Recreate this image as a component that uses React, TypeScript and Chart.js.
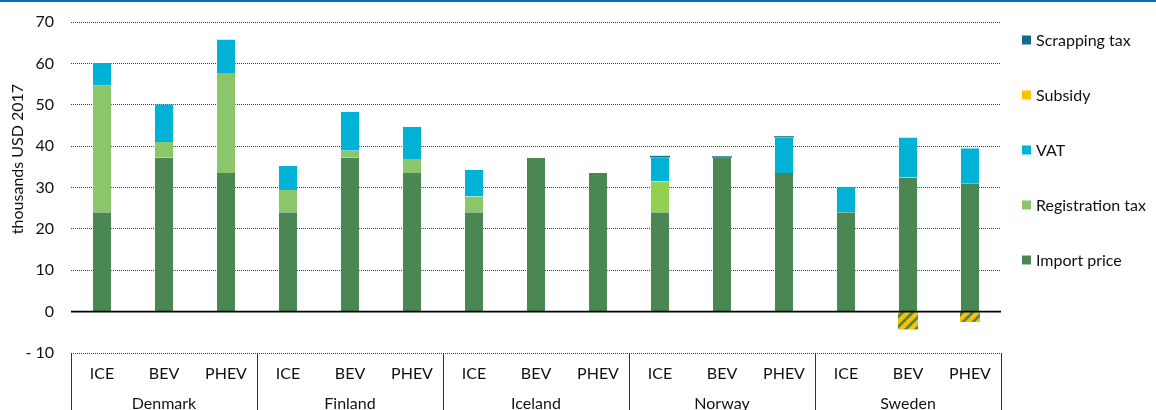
import React, { useEffect, useRef } from 'react';
import { Chart, registerables } from 'chart.js';

Chart.register(...registerables);

// ---------- data ----------
const countries = ['Denmark', 'Finland', 'Iceland', 'Norway', 'Sweden'];
const powertrains = ['ICE', 'BEV', 'PHEV'];
const categoryLabels = countries.flatMap(() => powertrains);

// thousands USD 2017, per bar in order: Denmark ICE/BEV/PHEV, Finland ..., Sweden ...
const importPrice = [24, 37.2, 33.5, 24, 37.2, 33.5, 24, 37.2, 33.5, 24, 37.2, 33.5, 24, 32.4, 31.0];
const registrationTax = [30.6, 3.8, 24.2, 5.4, 1.7, 3.4, 3.8, 0, 0, 7.5, 0, 0, 0, 0, 0];
const vat = [5.5, 9.1, 8.1, 5.8, 9.4, 7.8, 6.4, 0, 0, 5.75, 0, 8.6, 6.2, 9.7, 8.5];
const subsidy = [0, 0, 0, 0, 0, 0, 0, 0, 0, 0, 0, 0, 0, -4.3, -2.5];
const scrappingTax = [0, 0, 0, 0, 0, 0, 0, 0, 0, 0.4, 0.35, 0.3, 0, 0, 0];

const yTicks = [-10, 0, 10, 20, 30, 40, 50, 60, 70];
const yTitle = 'thousands USD 2017';

// ---------- styles ----------
const FONT = 'Lato, "Open Sans", sans-serif';
const C_IMPORT = '#4A8753';
const C_REG = '#8CC66A';
const C_REG_NO = '#92D050';
const C_VAT = '#00B2D5';
const C_SUB = '#FFC000';
const C_SCRAP = '#126A90';

function makeStripePattern(): CanvasPattern | string {
  const s = 10;
  const c = document.createElement('canvas');
  c.width = s;
  c.height = s;
  const g = c.getContext('2d');
  if (!g) return C_SUB;
  g.fillStyle = C_IMPORT;
  g.fillRect(0, 0, s, s);
  g.strokeStyle = C_SUB;
  g.lineWidth = 4.4;
  g.beginPath();
  g.moveTo(0, s);
  g.lineTo(s, 0);
  g.moveTo(-3, 3);
  g.lineTo(3, -3);
  g.moveTo(s - 3, s + 3);
  g.lineTo(s + 3, s - 3);
  g.stroke();
  const p = g.createPattern(c, 'repeat');
  return p || C_SUB;
}

const decorPlugin = {
  id: 'decor',
  beforeDraw(chart: any) {
    const ctx = chart.ctx;
    ctx.save();
    ctx.fillStyle = '#0070C0';
    ctx.fillRect(0, 0, chart.width, 2);
    ctx.restore();
  },
  afterDatasetsDraw(chart: any) {
    const ctx = chart.ctx;
    const { left, right } = chart.chartArea;
    const y0 = chart.scales.y.getPixelForValue(0);
    ctx.save();
    ctx.strokeStyle = '#000';
    ctx.lineWidth = 1.6;
    ctx.beginPath();
    ctx.moveTo(left, y0);
    ctx.lineTo(right, y0);
    ctx.stroke();
    ctx.restore();
  },
  afterDraw(chart: any) {
    const ctx = chart.ctx;
    const { left, right, bottom } = chart.chartArea;
    const gw = (right - left) / countries.length;
    ctx.save();
    // group separators
    ctx.strokeStyle = '#333';
    ctx.lineWidth = 1;
    for (let g = 0; g <= countries.length; g++) {
      const x = Math.round(left + g * gw) + 0.5;
      ctx.beginPath();
      ctx.moveTo(x, bottom);
      ctx.lineTo(x, chart.height);
      ctx.stroke();
    }
    // country labels
    ctx.fillStyle = '#111';
    ctx.font = `16px ${FONT}`;
    ctx.textAlign = 'center';
    ctx.textBaseline = 'alphabetic';
    countries.forEach((c, g) => {
      ctx.fillText(c, left + (g + 0.5) * gw, 409);
    });
    // y title
    ctx.save();
    ctx.translate(23, 159);
    ctx.rotate(-Math.PI / 2);
    ctx.textAlign = 'center';
    ctx.textBaseline = 'alphabetic';
    ctx.fillText(yTitle, 0, 0);
    ctx.restore();
    // legend
    const items = [...chart.data.datasets].reverse();
    items.forEach((ds: any, i: number) => {
      const cy = 40 + i * 55;
      ctx.fillStyle = ds.legendColor;
      ctx.fillRect(1022, cy - 4.5, 9, 9);
      ctx.fillStyle = '#111';
      ctx.textAlign = 'left';
      ctx.textBaseline = 'middle';
      ctx.fillText(ds.label, 1036, cy + 1);
    });
    ctx.restore();
  },
};

export default function App() {
  const ref = useRef<HTMLCanvasElement | null>(null);

  useEffect(() => {
    if (!ref.current) return;
    const stripe = makeStripePattern();
    const regColors = categoryLabels.map((_, i) =>
      countries[Math.floor(i / powertrains.length)] === 'Norway' ? C_REG_NO : C_REG
    );
    const common = {
      barPercentage: 0.323,
      categoryPercentage: 1,
      borderWidth: { left: 1, right: 1, top: 0, bottom: 0 },
      borderColor: 'rgba(255,255,255,0.3)',
      borderSkipped: false,
    };
    const chart = new Chart(ref.current, {
      type: 'bar',
      data: {
        labels: categoryLabels,
        datasets: [
          { label: 'Import price', data: importPrice, backgroundColor: C_IMPORT, legendColor: C_IMPORT, ...common },
          { label: 'Registration tax', data: registrationTax, backgroundColor: regColors, legendColor: C_REG, ...common },
          { label: 'VAT', data: vat, backgroundColor: C_VAT, legendColor: C_VAT, ...common },
          { label: 'Subsidy', data: subsidy, backgroundColor: stripe, legendColor: C_SUB, ...common, borderWidth: 0 },
          { label: 'Scrapping tax', data: scrappingTax, backgroundColor: C_SCRAP, legendColor: C_SCRAP, ...common, borderWidth: 0 },
        ] as any,
      },
      options: {
        animation: false,
        responsive: false,
        devicePixelRatio: 1,
        layout: { autoPadding: false, padding: { top: 22, right: 155, left: 0, bottom: 0 } },
        plugins: {
          legend: { display: false },
          tooltip: { enabled: false },
          title: { display: false },
        },
        scales: {
          x: {
            stacked: true,
            grid: { display: false, drawTicks: false },
            border: { display: false },
            ticks: {
              color: '#111',
              font: { family: FONT, size: 16 },
              padding: 11,
              maxRotation: 0,
              autoSkip: false,
            },
            afterFit: (s: any) => {
              s.height = 57;
            },
          },
          y: {
            stacked: true,
            min: -10,
            max: 70,
            afterBuildTicks: (s: any) => {
              s.ticks = yTicks.map((v) => ({ value: v }));
            },
            grid: {
              drawTicks: true,
              tickLength: 17,
              tickColor: 'rgba(0,0,0,0)',
              color: (c: any) => (c.tick && c.tick.value === 0 ? 'rgba(0,0,0,0)' : '#3a3a3a'),
              lineWidth: 1,
            },
            border: { display: false, dash: [1, 1] },
            ticks: {
              color: '#111',
              font: { family: FONT, size: 16 },
              padding: 0,
              callback: (v: any) => (Number(v) < 0 ? '- ' + Math.abs(Number(v)) : String(v)),
            },
            afterFit: (s: any) => {
              s.width = 71;
            },
          },
        },
      },
      plugins: [decorPlugin],
    });
    return () => chart.destroy();
  }, []);

  return (
    <div style={{ position: 'absolute', left: 0, top: 0, width: 1156, height: 410, background: '#fff' }}>
      <canvas ref={ref} width={1156} height={410} style={{ display: 'block', width: 1156, height: 410 }} />
    </div>
  );
}
